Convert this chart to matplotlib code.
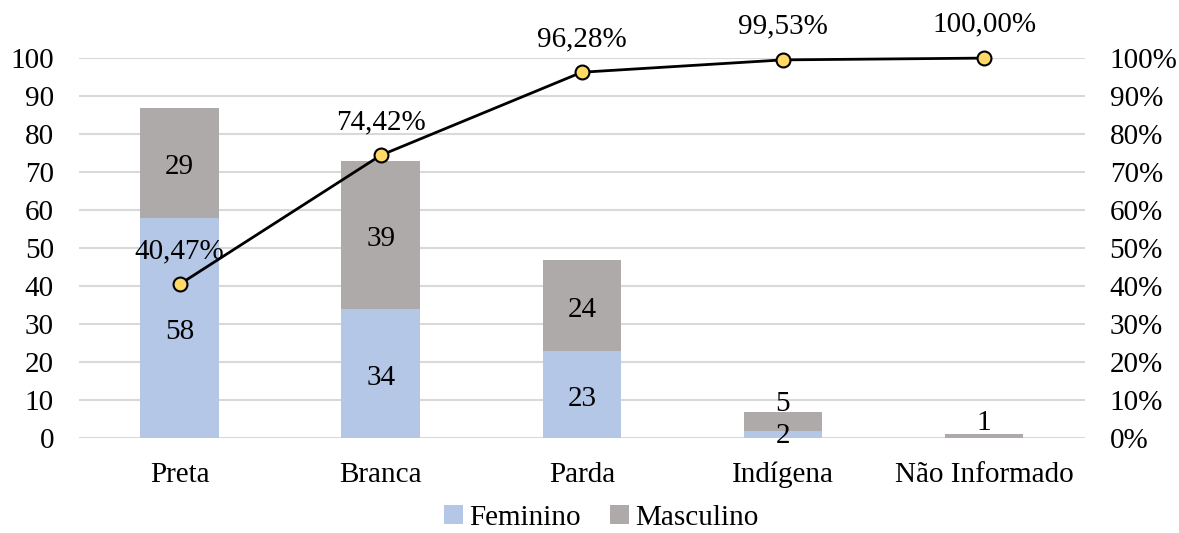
import matplotlib.pyplot as plt
from matplotlib.ticker import FuncFormatter
import numpy as np

plt.rcParams['font.family'] = ['Liberation Serif', 'DejaVu Serif']

categorias = ["Preta", "Branca", "Parda", "Indígena", "Não Informado"]
feminino = [58, 34, 23, 2, 0]
masculino = [29, 39, 24, 5, 1]
acumulado = [0.4047, 0.7442, 0.9628, 0.9953, 1.0]
rotulos_acum = ["40,47%", "74,42%", "96,28%", "99,53%", "100,00%"]

cor_fem = "#B4C7E7"
cor_mas = "#AEAAAA"
fs = 21

fig = plt.figure(figsize=(11.79, 5.33), dpi=100)
ax = fig.add_axes([0.067, 0.178, 0.853, 0.713])
x = np.arange(len(categorias))

ax.bar(x, feminino, width=0.39, color=cor_fem, zorder=2, label="Feminino")
ax.bar(x, masculino, width=0.39, bottom=feminino, color=cor_mas, zorder=2, label="Masculino")

# rotulos das barras (um pouco abaixo do centro, como no Excel)
for i in range(len(categorias)):
    f, m = feminino[i], masculino[i]
    if f >= 10:
        ax.text(x[i], f / 2 - 1.2, str(f), ha="center", va="center", fontsize=fs, zorder=3)
    elif f > 0:
        ax.text(x[i], 0.5, str(f), ha="center", va="center", fontsize=fs, zorder=3)
    if m >= 10:
        ax.text(x[i], f + m / 2 - 1.2, str(m), ha="center", va="center", fontsize=fs, zorder=3)
    elif f > 0:
        ax.text(x[i], 9, str(m), ha="center", va="center", fontsize=fs, zorder=3)
    else:
        ax.text(x[i], 4, str(m), ha="center", va="center", fontsize=fs, zorder=3)

ax.set_xlim(-0.5, len(categorias) - 0.5)
ax.set_ylim(0, 100)
ax.set_yticks(range(0, 101, 10))
ax.grid(axis="y", color="#D9D9D9", linewidth=1.5, zorder=0)
for s in ax.spines.values():
    s.set_visible(False)
ax.tick_params(axis="y", length=0, pad=18, labelsize=fs)
ax.tick_params(axis="x", length=0, pad=17, labelsize=fs)
ax.set_xticks(x)
ax.set_xticklabels(categorias)

ax2 = ax.twinx()
ax2.set_ylim(0, 1)
ax2.set_yticks(np.arange(0, 1.01, 0.1))
ax2.yaxis.set_major_formatter(FuncFormatter(lambda v, p: f"{v * 100:.0f}%"))
ax2.tick_params(axis="y", length=0, pad=18, labelsize=fs)
for s in ax2.spines.values():
    s.set_visible(False)
ax2.plot(x, acumulado, color="black", linewidth=2, marker="o", markersize=10,
         markerfacecolor="#FFD966", markeredgecolor="black", markeredgewidth=1.5,
         clip_on=False, zorder=5)
for i, lbl in enumerate(rotulos_acum):
    ax2.annotate(lbl, (x[i], acumulado[i]), xytext=(0, 24), textcoords="offset points",
                 ha="center", va="center", fontsize=fs, annotation_clip=False)

h, l = ax.get_legend_handles_labels()
fig.legend(h, l, loc="lower center", bbox_to_anchor=(0.51, -0.045), ncol=2, frameon=False,
           fontsize=fs, handlelength=0.65, handleheight=0.65, handletextpad=0.2, columnspacing=1.0)

fig.savefig("out.png", dpi=100)
